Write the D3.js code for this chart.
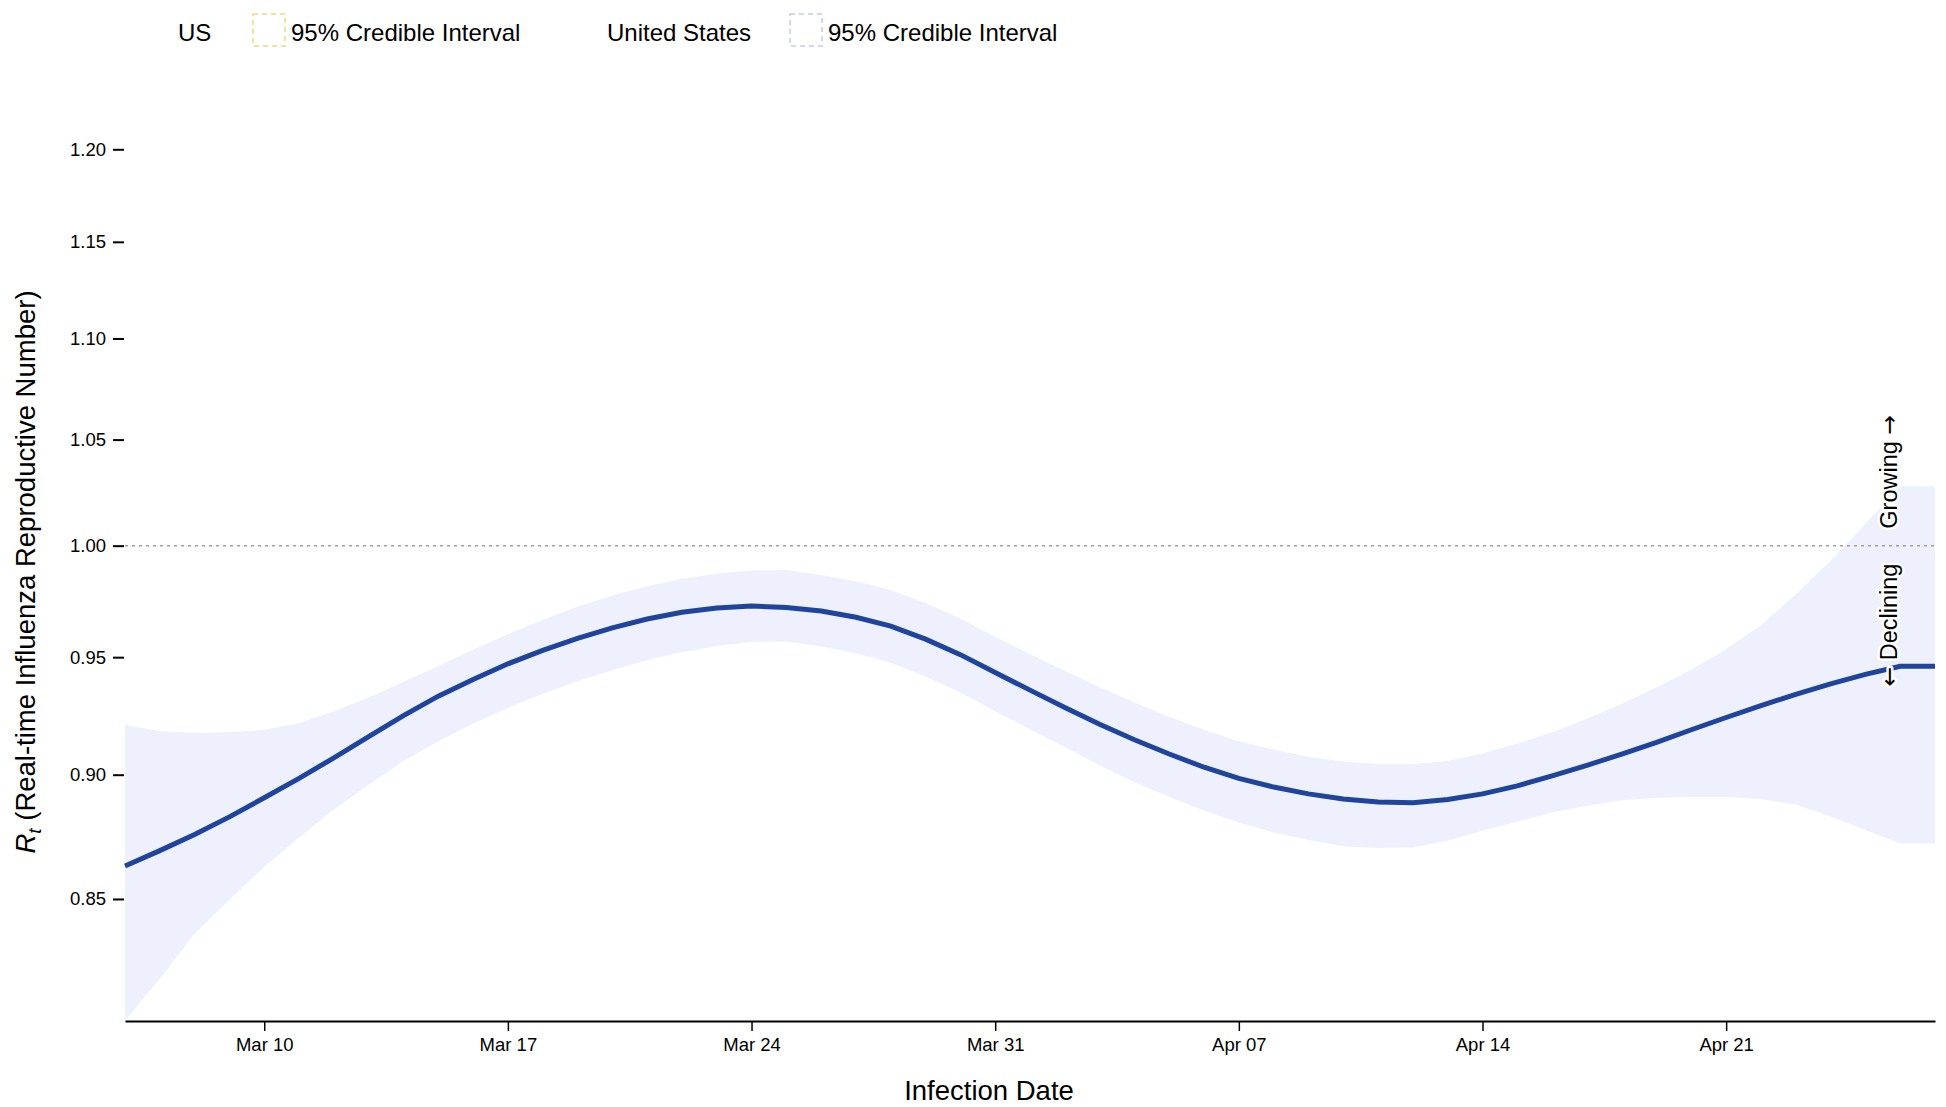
<!DOCTYPE html>
<html lang="en">
<head>
    <meta charset="UTF-8">
    <title>Rt United States</title>
    <script src="https://d3js.org/d3.v7.min.js"></script>
    <style>
        body { margin: 0; background: #fff; }
        svg { display: block; font-family: "Liberation Sans", Arial, Helvetica, sans-serif; }
        .tick text { font-size: 18.5px; fill: #000; }
        .axis-label { font-size: 27.5px; fill: #000; }
        .legend text { font-size: 24px; fill: #000; }
        .note { font-size: 23.5px; fill: #000; stroke: #fff; stroke-width: 5px; paint-order: stroke; stroke-linejoin: round; }
        .arrow { font-family: "DejaVu Sans", sans-serif; }
    </style>
</head>
<body>
    <div id="chart"></div>

    <script>
        // infection dates (one per day)
        const dates = [
            "2024-03-06", "2024-03-07", "2024-03-08", "2024-03-09", "2024-03-10", "2024-03-11", "2024-03-12",
            "2024-03-13", "2024-03-14", "2024-03-15", "2024-03-16", "2024-03-17", "2024-03-18", "2024-03-19",
            "2024-03-20", "2024-03-21", "2024-03-22", "2024-03-23", "2024-03-24", "2024-03-25", "2024-03-26",
            "2024-03-27", "2024-03-28", "2024-03-29", "2024-03-30", "2024-03-31", "2024-04-01", "2024-04-02",
            "2024-04-03", "2024-04-04", "2024-04-05", "2024-04-06", "2024-04-07", "2024-04-08", "2024-04-09",
            "2024-04-10", "2024-04-11", "2024-04-12", "2024-04-13", "2024-04-14", "2024-04-15", "2024-04-16",
            "2024-04-17", "2024-04-18", "2024-04-19", "2024-04-20", "2024-04-21", "2024-04-22", "2024-04-23",
            "2024-04-24", "2024-04-25", "2024-04-26", "2024-04-27"
        ];

        // median Rt
        const rt = [
            0.8630, 0.8691, 0.8756, 0.8827, 0.8905, 0.8985, 0.9070, 0.9159, 0.9248, 0.9331,
            0.9403, 0.9471, 0.9530, 0.9582, 0.9629, 0.9668, 0.9698, 0.9717, 0.9726, 0.9720,
            0.9704, 0.9676, 0.9637, 0.9579, 0.9511, 0.9433, 0.9357, 0.9283, 0.9211, 0.9146,
            0.9086, 0.9031, 0.8985, 0.8949, 0.8921, 0.8900, 0.8888, 0.8885, 0.8898, 0.8921,
            0.8954, 0.8995, 0.9039, 0.9086, 0.9135, 0.9188, 0.9240, 0.9291, 0.9339, 0.9384,
            0.9425, 0.9460, 0.9460
        ];

        // 95% credible interval, upper bound
        const rtHigh = [
            0.9209, 0.9182, 0.9175, 0.9177, 0.9188, 0.9217, 0.9267, 0.9325, 0.9392, 0.9462,
            0.9533, 0.9601, 0.9665, 0.9723, 0.9773, 0.9815, 0.9849, 0.9872, 0.9886, 0.9889,
            0.9866, 0.9838, 0.9798, 0.9740, 0.9670, 0.9590, 0.9514, 0.9441, 0.9371, 0.9304,
            0.9243, 0.9188, 0.9140, 0.9104, 0.9075, 0.9055, 0.9044, 0.9044, 0.9057, 0.9088,
            0.9130, 0.9177, 0.9235, 0.9299, 0.9368, 0.9446, 0.9536, 0.9640, 0.9779, 0.9931,
            1.0100, 1.0276, 1.0276
        ];

        // 95% credible interval, lower bound
        const rtLow = [
            0.8036, 0.8194, 0.8365, 0.8497, 0.8627, 0.8744, 0.8857, 0.8959, 0.9057, 0.9140,
            0.9214, 0.9280, 0.9341, 0.9395, 0.9443, 0.9487, 0.9522, 0.9549, 0.9566, 0.9569,
            0.9547, 0.9517, 0.9476, 0.9416, 0.9347, 0.9267, 0.9190, 0.9114, 0.9039, 0.8969,
            0.8908, 0.8852, 0.8804, 0.8764, 0.8734, 0.8709, 0.8702, 0.8704, 0.8731, 0.8771,
            0.8807, 0.8845, 0.8872, 0.8895, 0.8905, 0.8908, 0.8908, 0.8900, 0.8878, 0.8829,
            0.8774, 0.8720, 0.8720
        ];

        const yTicks = [0.85, 0.90, 0.95, 1.00, 1.05, 1.10, 1.15, 1.20];
        const xTicks = ["2024-03-10", "2024-03-17", "2024-03-24", "2024-03-31", "2024-04-07", "2024-04-14", "2024-04-21"];

        const width = 1946, height = 1107;
        const plotLeft = 125, plotRight = 1935, plotTop = 149.3, plotBottom = 1021;

        const parse = d3.utcParse("%Y-%m-%d");
        const rows = dates.map((d, i) => ({
            date: parse(d),
            rt: rt[i],
            high: rtHigh[i],
            low: rtLow[i]
        }));

        const svg = d3.select("#chart")
            .append("svg")
            .attr("width", width)
            .attr("height", height);

        const x = d3.scaleUtc()
            .domain(d3.extent(rows, d => d.date))
            .range([plotLeft, plotRight]);

        const y = d3.scaleLog()
            .domain([d3.min(rtLow), 1.2])
            .range([plotBottom, plotTop]);

        // credible interval band
        svg.append("path")
            .datum(rows)
            .attr("fill", "#eef0fd")
            .attr("d", d3.area()
                .x(d => x(d.date))
                .y0(d => y(d.low))
                .y1(d => y(d.high)));

        // Rt = 1 reference line
        svg.append("line")
            .attr("x1", plotLeft)
            .attr("x2", plotRight)
            .attr("y1", y(1))
            .attr("y2", y(1))
            .attr("stroke", "#a0a0a0")
            .attr("stroke-width", 1.5)
            .attr("stroke-dasharray", "3,4");

        // median line
        svg.append("path")
            .datum(rows)
            .attr("fill", "none")
            .attr("stroke", "#1f449c")
            .attr("stroke-width", 5)
            .attr("d", d3.line()
                .x(d => x(d.date))
                .y(d => y(d.rt)));

        // x axis
        const xAxis = svg.append("g")
            .attr("transform", `translate(0, ${plotBottom})`)
            .call(d3.axisBottom(x)
                .tickValues(xTicks.map(parse))
                .tickFormat(d3.utcFormat("%b %d"))
                .tickSize(10)
                .tickSizeOuter(0)
                .tickPadding(7));
        xAxis.select(".domain").attr("stroke", "#000").attr("stroke-width", 2);
        xAxis.selectAll(".tick line").attr("stroke", "#000").attr("stroke-width", 1.5);

        // y axis
        const yAxis = svg.append("g")
            .attr("transform", `translate(${plotLeft - 1}, 0)`)
            .call(d3.axisLeft(y)
                .tickValues(yTicks)
                .tickFormat(d3.format(".2f"))
                .tickSize(11)
                .tickPadding(7));
        yAxis.select(".domain").remove();
        yAxis.selectAll(".tick line").attr("stroke", "#000").attr("stroke-width", 2);

        // axis labels
        svg.append("text")
            .attr("class", "axis-label")
            .attr("x", 989)
            .attr("y", 1100)
            .attr("text-anchor", "middle")
            .text("Infection Date");

        const yLabel = svg.append("text")
            .attr("class", "axis-label")
            .attr("transform", "translate(35, 572) rotate(-90)")
            .attr("text-anchor", "middle");
        yLabel.append("tspan").attr("font-style", "italic").text("R");
        yLabel.append("tspan").attr("font-style", "italic").attr("font-size", "19px").attr("dy", 6).text("t");
        yLabel.append("tspan").attr("dy", -6).text(" (Real-time Influenza Reproductive Number)");

        // growing / declining notes
        const grow = svg.append("text")
            .attr("class", "note")
            .attr("transform", `translate(1897, ${y(1) - 17}) rotate(-90)`)
            .attr("text-anchor", "start");
        grow.append("tspan").text("Growing ");
        grow.append("tspan").attr("class", "arrow").text("\u2192");

        const decline = svg.append("text")
            .attr("class", "note")
            .attr("transform", `translate(1897, ${y(1) + 18}) rotate(-90)`)
            .attr("text-anchor", "end");
        decline.append("tspan").attr("class", "arrow").text("\u2190");
        decline.append("tspan").text(" Declining");

        // legend
        const legend = svg.append("g").attr("class", "legend");
        const legendItems = [
            { name: "US", nameX: 178, boxX: 253, color: "#fcdf96" },
            { name: "United States", nameX: 607, boxX: 790, color: "#d3d7ec" }
        ];
        legendItems.forEach(item => {
            legend.append("text")
                .attr("x", item.nameX)
                .attr("y", 40.5)
                .text(item.name);
            legend.append("rect")
                .attr("x", item.boxX)
                .attr("y", 14)
                .attr("width", 32)
                .attr("height", 32)
                .attr("fill", "none")
                .attr("stroke", item.color)
                .attr("stroke-width", 2)
                .attr("stroke-dasharray", "5,4");
            legend.append("text")
                .attr("x", item.boxX + 38)
                .attr("y", 40.5)
                .text("95% Credible Interval");
        });
    </script>
</body>
</html>
